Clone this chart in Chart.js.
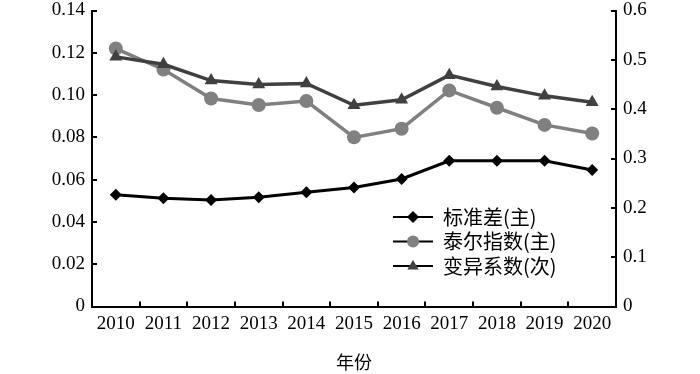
<!DOCTYPE html>
<html>
<head>
<meta charset="utf-8">
<script src="https://cdn.jsdelivr.net/npm/chart.js"></script>
<style>
  body { margin: 0; background: #fff; }
  #wrap { width: 700px; height: 374px; }
</style>
</head>
<body>
<div id="wrap"><canvas id="chart" width="700" height="374"></canvas></div>
<script>
// years on the x axis
var years = ['2010', '2011', '2012', '2013', '2014', '2015', '2016', '2017', '2018', '2019', '2020'];

// left axis (主)
var stdDev = [0.0529, 0.0512, 0.0504, 0.0517, 0.0540, 0.0563, 0.0603, 0.0689, 0.0689, 0.0689, 0.0646];
var theil = [0.1220, 0.1121, 0.0984, 0.0953, 0.0972, 0.0800, 0.0841, 0.1022, 0.0940, 0.0859, 0.0818];

// right axis (次)
var cv = [0.506, 0.491, 0.458, 0.450, 0.452, 0.408, 0.419, 0.469, 0.446, 0.427, 0.414];

var seriesNames = ['标准差(主)', '泰尔指数(主)', '变异系数(次)'];
var xTitle = '年份';

var serif = "'Liberation Serif', 'Times New Roman', serif";
var cjk = "'Noto Sans CJK SC', 'Noto Sans', sans-serif";

function marker(ctx, style, x, y, r, color) {
    ctx.save();
    ctx.fillStyle = color;
    ctx.beginPath();
    if (style === 'rectRot') {
        ctx.moveTo(x, y - r);
        ctx.lineTo(x + r, y);
        ctx.lineTo(x, y + r);
        ctx.lineTo(x - r, y);
    } else if (style === 'triangle') {
        ctx.moveTo(x, y - r);
        ctx.lineTo(x + r * 0.95, y + r * 0.6);
        ctx.lineTo(x - r * 0.95, y + r * 0.6);
    } else {
        ctx.arc(x, y, r, 0, Math.PI * 2);
    }
    ctx.closePath();
    ctx.fill();
    ctx.restore();
}

// legend sits inside the plot, lower right
var insideLegend = {
    id: 'insideLegend',
    afterDraw: function(chart) {
        var ctx = chart.ctx;
        var x0 = 393, y0 = 217, gap = 24.5;
        chart.data.datasets.forEach(function(ds, i) {
            var y = y0 + i * gap;
            ctx.save();
            ctx.strokeStyle = '#000';
            ctx.lineWidth = 2;
            ctx.beginPath();
            ctx.moveTo(x0, y);
            ctx.lineTo(x0 + 40, y);
            ctx.stroke();
            marker(ctx, ds.pointStyle, x0 + 20, y, 6, ds.pointBackgroundColor);
            ctx.fillStyle = '#000';
            ctx.font = '20px ' + cjk;
            ctx.textBaseline = 'middle';
            ctx.textAlign = 'left';
            ctx.fillText(ds.label, x0 + 50, y);
            ctx.restore();
        });
    }
};

function fixY(width) {
    return function(s) {
        s.width = width;
        s.paddingTop = 10.5;
        s.paddingBottom = 0;
    };
}

new Chart(document.getElementById('chart').getContext('2d'), {
    type: 'line',
    data: {
        labels: years,
        datasets: [{
            label: seriesNames[0],
            data: stdDev,
            yAxisID: 'y',
            borderColor: '#000000',
            borderWidth: 3,
            pointStyle: 'rectRot',
            pointRadius: 6,
            pointBackgroundColor: '#000000',
            pointBorderColor: '#000000',
            pointBorderWidth: 0,
            order: 0
        }, {
            label: seriesNames[1],
            data: theil,
            yAxisID: 'y',
            borderColor: '#808080',
            borderWidth: 3.5,
            pointStyle: 'circle',
            pointRadius: 7,
            pointBackgroundColor: '#808080',
            pointBorderColor: '#808080',
            pointBorderWidth: 0,
            order: 2
        }, {
            label: seriesNames[2],
            data: cv,
            yAxisID: 'y1',
            borderColor: '#404040',
            borderWidth: 3.5,
            pointStyle: 'triangle',
            pointRadius: 7.5,
            pointBackgroundColor: '#404040',
            pointBorderColor: '#404040',
            pointBorderWidth: 0,
            order: 1
        }]
    },
    options: {
        responsive: false,
        animation: false,
        layout: { padding: 0 },
        plugins: {
            legend: { display: false },
            tooltip: { enabled: false }
        },
        scales: {
            x: {
                offset: true,
                grid: { offset: true, drawOnChartArea: false, tickLength: -5, color: '#000', lineWidth: 2 },
                border: { color: '#000', width: 2 },
                ticks: { color: '#000', font: { family: serif, size: 19 }, padding: 11, maxRotation: 0, autoSkip: false },
                title: { display: true, text: xTitle, color: '#000', font: { family: cjk, size: 18 }, padding: { top: 0, bottom: 1 } },
                afterFit: function(s) { s.height = 67.5; }
            },
            y: {
                position: 'left',
                min: 0,
                max: 0.14,
                grid: { drawOnChartArea: false, tickLength: -5, color: '#000', lineWidth: 2 },
                border: { color: '#000', width: 2 },
                ticks: {
                    stepSize: 0.02,
                    color: '#000',
                    font: { family: serif, size: 19 },
                    padding: 12,
                    callback: function(v) { return v === 0 ? '0' : v.toFixed(2); }
                },
                afterFit: fixY(92)
            },
            y1: {
                position: 'right',
                min: 0,
                max: 0.6,
                grid: { drawOnChartArea: false, tickLength: -5, color: '#000', lineWidth: 2 },
                border: { color: '#000', width: 2 },
                ticks: {
                    stepSize: 0.1,
                    color: '#000',
                    font: { family: serif, size: 19 },
                    padding: 12,
                    callback: function(v) { return v === 0 ? '0' : v.toFixed(1); }
                },
                afterFit: fixY(84)
            }
        }
    },
    plugins: [insideLegend]
});
</script>
</body>
</html>
